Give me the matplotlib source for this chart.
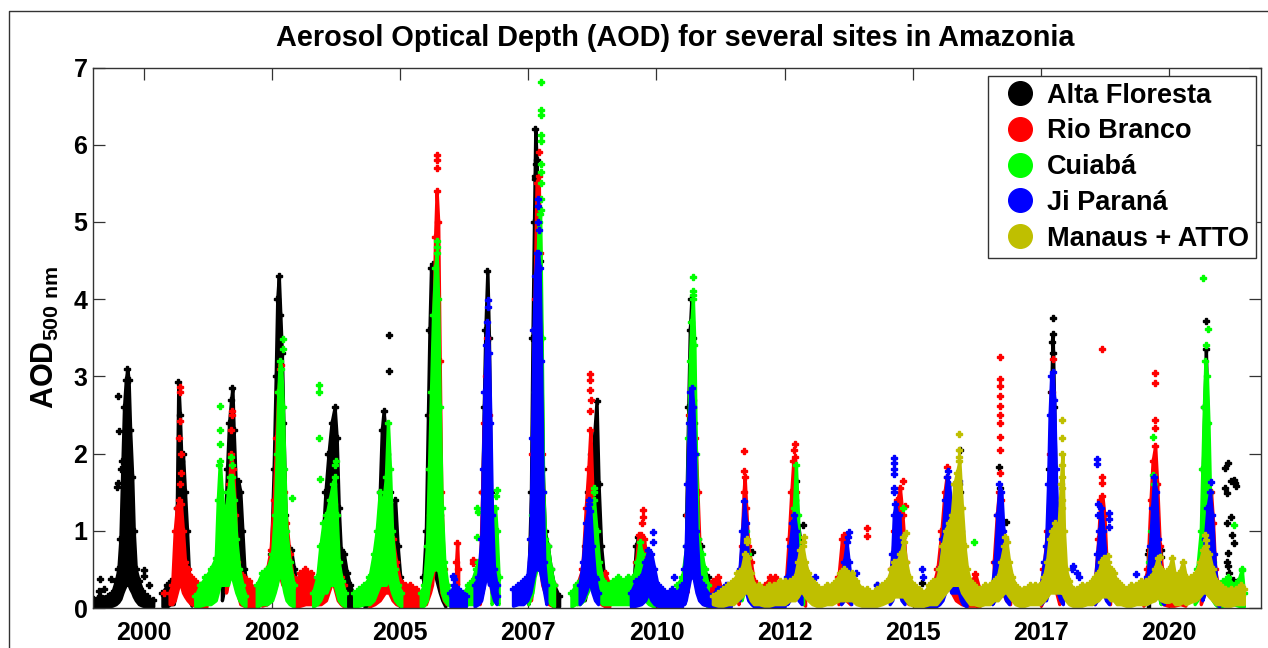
import matplotlib
matplotlib.use('Agg')
import matplotlib.pyplot as plt
from matplotlib.lines import Line2D

plt.rcParams['font.family'] = ['Liberation Sans', 'DejaVu Sans']
plt.rcParams['font.weight'] = 'bold'
plt.rcParams['mathtext.fontset'] = 'custom'
plt.rcParams['mathtext.rm'] = 'Liberation Sans:bold'
plt.rcParams['mathtext.it'] = 'Liberation Sans:bold'
plt.rcParams['mathtext.bf'] = 'Liberation Sans:bold'

# ---------------- data (decimal year, AOD) ----------------
site_names = ['Alta Floresta', 'Rio Branco', 'Cuiabá', 'Ji Paraná', 'Manaus + ATTO']
site_colors = ['#000000', '#FF0000', '#00FF00', '#0000FF', '#BFBF00']

xtick_pos = [2000.0, 2002.5, 2005.0, 2007.5, 2010.0, 2012.5, 2015.0, 2017.5, 2020.0]
xtick_labels = ['2000', '2002', '2005', '2007', '2010', '2012', '2015', '2017', '2020']
ytick_pos = [0, 1, 2, 3, 4, 5, 6, 7]

# each segment: list of (time, low AOD, high AOD) observation envelopes
alta_floresta_segments = [
    [(1999.01,0.02,0.12),(1999.15,0.02,0.15),(1999.30,0.02,0.15),(1999.38,0.03,0.2),(1999.45,0.05,0.35),(1999.50,0.08,0.5),(1999.54,0.12,0.9),(1999.58,0.2,1.9),(1999.61,0.25,2.6),(1999.645,0.3,2.95),(1999.675,0.3,3.1),(1999.70,0.3,2.95),(1999.73,0.25,2.3),(1999.77,0.2,1.7),(1999.80,0.15,1.0),(1999.84,0.1,0.5),(1999.90,0.05,0.35),(1999.97,0.03,0.22),(2000.05,0.02,0.15),(2000.18,0.02,0.1)],
    [(2000.36,0.02,0.2),(2000.45,0.02,0.3),(2000.52,0.05,0.35),(2000.58,0.05,0.3),(2000.64,0.3,1.3),(2000.67,0.5,2.93),(2000.70,0.5,2.5),(2000.73,0.4,1.9),(2000.76,0.3,2.0),(2000.80,0.3,1.5),(2000.84,0.2,1.0),(2000.88,0.1,0.4),(2000.93,0.03,0.2)],
    [(2001.52,0.1,0.5),(2001.58,0.3,1.0),(2001.62,0.4,1.8),(2001.66,0.5,2.4),(2001.70,0.5,2.7),(2001.725,0.5,2.85),(2001.75,0.4,2.3),(2001.79,0.3,1.6),(2001.84,0.3,1.65),(2001.88,0.2,1.5),(2001.92,0.1,1.0),(2001.96,0.05,0.5),(2002.00,0.02,0.3)],
    [(2002.20,0.02,0.2),(2002.30,0.05,0.35),(2002.40,0.05,0.4),(2002.48,0.1,0.7),(2002.53,0.3,1.8),(2002.57,0.5,3.0),(2002.60,0.6,4.0),(2002.63,0.6,4.3),(2002.66,0.6,3.8),(2002.69,0.5,3.3),(2002.72,0.4,2.4),(2002.76,0.3,1.2),(2002.80,0.2,0.8),(2002.87,0.1,0.75),(2002.93,0.05,0.5),(2002.98,0.02,0.3)],
    [(2003.40,0.05,0.3),(2003.48,0.1,0.8),(2003.54,0.3,1.5),(2003.60,0.5,2.0),(2003.66,0.5,2.4),(2003.72,0.5,2.6),(2003.76,0.4,2.2),(2003.80,0.3,1.3),(2003.84,0.2,0.75),(2003.90,0.1,0.7),(2003.96,0.03,0.45),(2004.02,0.02,0.3),(2004.10,0.02,0.15)],
    [(2004.30,0.02,0.2),(2004.45,0.05,0.3),(2004.55,0.1,0.6),(2004.60,0.3,1.5),(2004.64,0.5,2.3),(2004.675,0.5,2.55),(2004.71,0.5,2.3),(2004.75,0.4,2.0),(2004.80,0.3,1.5),(2004.85,0.2,1.2),(2004.90,0.1,1.4),(2004.95,0.05,0.8),(2005.00,0.02,0.4),(2005.08,0.02,0.15)],
    [(2005.45,0.05,0.4),(2005.50,0.2,1.0),(2005.54,0.3,2.5),(2005.57,0.4,3.6),(2005.60,0.5,4.4),(2005.63,0.5,4.45),(2005.66,0.5,4.0),(2005.69,0.4,3.0),(2005.73,0.3,2.0),(2005.77,0.2,1.2),(2005.82,0.1,0.6),(2005.88,0.02,0.3)],
    [(2006.60,0.2,1.5),(2006.63,0.3,2.6),(2006.66,0.5,3.6),(2006.70,0.5,4.37),(2006.73,0.5,3.5),(2006.77,0.3,1.5),(2006.82,0.2,0.6)],
    [(2007.50,0.05,0.3),(2007.55,0.2,1.5),(2007.58,0.4,3.5),(2007.61,0.5,5.0),(2007.635,0.5,6.2),(2007.66,0.6,5.8),(2007.69,0.6,5.3),(2007.72,0.5,4.5),(2007.75,0.5,3.5),(2007.78,0.4,1.8),(2007.82,0.3,1.0),(2007.88,0.2,0.8),(2007.94,0.05,0.5),(2008.00,0.02,0.3),(2008.10,0.02,0.15)],
    [(2008.60,0.1,0.8),(2008.66,0.3,1.5),(2008.72,0.4,2.0),(2008.77,0.5,2.1),(2008.83,0.4,2.68),(2008.87,0.3,1.6),(2008.92,0.2,0.8),(2008.97,0.05,0.45),(2009.05,0.02,0.3)],
    [(2009.55,0.05,0.3),(2009.60,0.2,0.8),(2009.64,0.3,0.92),(2009.68,0.3,0.9),(2009.72,0.3,0.85),(2009.76,0.2,0.7),(2009.80,0.1,0.5),(2009.90,0.05,0.35),(2010.00,0.02,0.3),(2010.10,0.02,0.2)],
    [(2010.58,0.2,1.2),(2010.62,0.4,2.6),(2010.65,0.5,3.6),(2010.68,0.5,4.0),(2010.71,0.5,3.5),(2010.74,0.4,2.4),(2010.80,0.3,0.9),(2010.86,0.2,0.8),(2010.92,0.1,0.5),(2011.00,0.05,0.4),(2011.05,0.02,0.2)],
    [(2012.66,0.3,0.8),(2012.70,0.4,1.4),(2012.74,0.3,1.2),(2012.80,0.2,0.9),(2012.86,0.1,0.6)],
    [(2015.84,0.3,0.9),(2015.88,0.5,1.4),(2015.92,0.4,1.5),(2015.96,0.2,0.8)],
    [(2016.66,0.3,0.9),(2016.70,0.4,1.55),(2016.74,0.3,1.1),(2016.80,0.2,0.9)],
    [(2017.66,0.5,1.8),(2017.70,0.8,2.8),(2017.73,1.0,3.55),(2017.76,0.8,2.6),(2017.80,0.4,1.2)],
    [(2019.59,0.0,0.7),(2019.61,0.0,0.75)],
    [(2020.66,0.6,1.8),(2020.69,0.9,2.6),(2020.72,1.0,3.35),(2020.75,0.8,2.4),(2020.79,0.4,1.2)],
]
alta_floresta_points = [(1999.15,0.38),(1999.35,0.37),(1999.13,0.22),(1999.22,0.25),(1999.48,1.57),(1999.50,1.62),
    (1999.52,2.29),(1999.50,2.75),(1999.55,1.8),(2000.00,0.49),(2000.00,0.42),(2000.10,0.3),(2004.79,3.53),(2004.79,3.07),
    (2007.62,5.55),(2007.63,5.6),(2007.64,5.75),(2011.87,0.72),(2012.73,1.64),(2012.86,1.08),(2013.90,0.27),(2014.30,0.3),
    (2015.19,0.33),(2015.93,2.04),(2015.90,1.6),(2016.69,1.82),(2016.81,1.12),(2017.727,3.76),(2017.72,3.45),(2017.73,3.3),
    (2017.83,0.74),(2019.85,0.75),(2019.84,0.66),(2020.73,3.72),(2021.10,1.81),(2021.16,1.88),(2021.26,1.66),(2021.20,1.64),
    (2021.14,1.49),(2021.10,1.55),(2021.20,1.18),(2021.14,1.10),(2021.26,0.84),(2021.16,0.71),(2021.14,0.60),(2021.16,0.55),
    (2021.24,0.36),(2021.26,0.30),(2021.18,0.45),(2021.10,0.33),(2021.22,0.95),(2021.28,1.62),(2021.30,1.58)]

rio_branco_segments = [
    [(2000.50,0.05,0.2),(2000.55,0.05,0.3),(2000.60,0.1,1.0),(2000.64,0.2,1.3),(2000.68,0.3,1.4),(2000.72,0.3,1.35),(2000.76,0.2,1.0),(2000.80,0.15,0.6),(2000.85,0.1,0.5),(2000.92,0.05,0.4),(2001.00,0.03,0.35),(2001.10,0.02,0.3),(2001.22,0.02,0.2)],
    [(2001.60,0.2,0.9),(2001.66,0.4,1.6),(2001.70,0.5,2.0),(2001.74,0.4,1.8),(2001.78,0.3,1.2),(2001.82,0.2,0.6),(2001.88,0.05,0.45),(2001.95,0.03,0.4),(2002.05,0.02,0.35),(2002.15,0.02,0.25)],
    [(2002.30,0.03,0.3),(2002.40,0.05,0.5),(2002.47,0.1,0.75),(2002.53,0.2,1.4),(2002.58,0.3,2.2),(2002.62,0.4,2.8),(2002.66,0.4,3.1),(2002.70,0.3,2.6),(2002.74,0.3,1.5),(2002.78,0.2,1.1),(2002.84,0.1,0.7),(2002.90,0.05,0.4),(2002.97,0.02,0.35),(2003.05,0.03,0.45),(2003.15,0.05,0.5),(2003.25,0.05,0.45),(2003.35,0.05,0.35),(2003.45,0.05,0.3),(2003.55,0.1,0.6),(2003.60,0.2,1.1),(2003.65,0.3,1.3),(2003.70,0.3,1.35),(2003.74,0.2,1.2),(2003.78,0.1,0.6),(2003.84,0.05,0.4),(2003.90,0.02,0.3)],
    [(2004.40,0.02,0.25),(2004.50,0.05,0.4),(2004.60,0.1,0.6),(2004.70,0.2,1.0),(2004.78,0.2,1.1),(2004.85,0.1,0.9),(2004.92,0.05,0.6),(2005.00,0.03,0.35),(2005.10,0.02,0.3),(2005.20,0.02,0.3),(2005.30,0.02,0.25),(2005.40,0.03,0.2),(2005.50,0.05,0.3),(2005.58,0.2,1.2),(2005.62,0.3,2.5),(2005.65,0.5,3.8),(2005.68,0.5,4.8),(2005.71,0.6,5.4),(2005.74,0.6,5.0),(2005.77,0.4,3.2),(2005.80,0.2,1.5),(2005.85,0.1,0.5),(2005.90,0.05,0.3)],
    [(2006.09,0.3,0.6),(2006.11,0.35,0.84),(2006.13,0.3,0.5)],
    [(2006.55,0.05,0.4),(2006.60,0.2,1.5),(2006.63,0.3,2.4),(2006.67,0.5,3.0),(2006.70,0.5,3.5),(2006.74,0.4,2.5),(2006.78,0.2,1.0),(2006.83,0.1,0.4)],
    [(2007.55,0.1,0.6),(2007.58,0.3,2.0),(2007.62,0.5,4.0),(2007.66,0.6,5.5),(2007.70,0.6,5.6),(2007.73,0.5,4.6),(2007.77,0.3,2.0),(2007.82,0.2,0.5),(2007.90,0.05,0.4),(2008.00,0.02,0.3)],
    [(2008.45,0.05,0.3),(2008.55,0.1,0.5),(2008.62,0.2,1.3),(2008.67,0.3,1.8),(2008.71,0.4,2.3),(2008.75,0.3,1.5),(2008.80,0.2,0.8),(2008.85,0.1,0.5),(2008.92,0.05,0.4),(2009.00,0.02,0.45),(2009.08,0.02,0.3)],
    [(2009.60,0.1,0.6),(2009.65,0.3,0.95),(2009.70,0.3,0.95),(2009.75,0.3,0.9),(2009.80,0.2,0.7),(2009.86,0.1,0.4),(2009.95,0.05,0.3),(2010.05,0.02,0.2)],
    [(2010.60,0.2,1.2),(2010.64,0.4,2.5),(2010.67,0.5,2.8),(2010.71,0.5,2.7),(2010.76,0.4,2.2),(2010.80,0.3,1.5),(2010.85,0.1,0.6),(2010.92,0.05,0.35),(2011.00,0.03,0.3),(2011.10,0.03,0.35),(2011.20,0.03,0.4),(2011.28,0.02,0.2)],
    [(2011.60,0.05,0.3),(2011.66,0.2,0.8),(2011.70,0.3,1.5),(2011.72,0.3,1.7),(2011.75,0.3,1.3),(2011.79,0.2,0.8),(2011.84,0.1,0.6),(2011.90,0.05,0.35),(2012.00,0.03,0.25),(2012.12,0.03,0.3),(2012.22,0.05,0.4),(2012.32,0.05,0.4),(2012.40,0.03,0.25)],
    [(2012.52,0.05,0.3),(2012.58,0.2,0.9),(2012.63,0.3,1.5),(2012.67,0.4,1.9),(2012.70,0.4,1.95),(2012.73,0.3,1.5),(2012.77,0.2,0.8),(2012.82,0.1,0.4),(2012.90,0.03,0.25)],
    [(2013.55,0.05,0.4),(2013.62,0.2,0.9),(2013.66,0.2,0.95),(2013.70,0.1,0.6),(2013.78,0.05,0.3)],
    [(2014.58,0.1,0.5),(2014.64,0.2,1.0),(2014.70,0.3,1.4),(2014.75,0.3,1.55),(2014.80,0.2,1.2),(2014.86,0.1,0.6),(2014.92,0.05,0.3)],
    [(2015.40,0.05,0.3),(2015.48,0.1,0.5),(2015.56,0.2,1.0),(2015.62,0.3,1.5),(2015.66,0.3,1.7),(2015.70,0.3,1.3),(2015.76,0.2,0.8),(2015.84,0.1,0.5),(2015.95,0.05,0.3),(2016.05,0.03,0.3),(2016.15,0.03,0.35),(2016.22,0.03,0.44),(2016.30,0.02,0.25)],
    [(2016.58,0.1,0.6),(2016.64,0.3,1.2),(2016.68,0.3,1.5),(2016.72,0.3,1.4),(2016.76,0.2,0.9),(2016.82,0.1,0.5),(2016.90,0.05,0.3)],
    [(2017.50,0.03,0.3),(2017.55,0.1,0.5),(2017.62,0.2,1.0),(2017.68,0.3,2.0),(2017.72,0.4,2.8),(2017.76,0.3,1.8),(2017.80,0.2,0.8),(2017.86,0.05,0.3)],
    [(2018.55,0.05,0.3),(2018.62,0.2,0.9),(2018.66,0.3,1.4),(2018.70,0.3,1.45),(2018.74,0.2,1.2),(2018.78,0.1,0.6),(2018.85,0.05,0.3)],
    [(2019.50,0.03,0.3),(2019.58,0.1,0.5),(2019.64,0.3,1.4),(2019.68,0.4,1.9),(2019.73,0.4,2.1),(2019.77,0.3,1.6),(2019.82,0.2,0.8),(2019.88,0.05,0.4),(2019.98,0.03,0.3),(2020.10,0.03,0.35),(2020.22,0.05,0.42),(2020.32,0.03,0.3)],
    [(2020.62,0.05,0.4),(2020.70,0.2,0.8),(2020.76,0.3,1.2),(2020.82,0.3,1.5),(2020.86,0.2,1.1),(2020.90,0.1,0.5),(2020.95,0.05,0.3)],
]
rio_branco_points = [(2000.40,0.2),(2000.71,2.86),(2000.71,2.8),(2000.70,2.42),(2000.69,2.2),(2000.72,2.0),(2000.73,1.75),
    (2000.70,1.6),(2001.72,2.55),(2001.71,2.5),(2001.70,2.3),(2002.68,3.15),(2005.72,5.87),(2005.72,5.8),(2005.72,5.7),
    (2006.42,0.62),(2006.42,0.58),(2007.71,5.9),(2008.71,3.03),(2008.71,2.95),(2008.70,2.82),(2008.72,2.7),(2008.71,2.55),
    (2009.73,1.27),(2009.73,1.18),(2009.72,1.1),(2011.715,2.03),(2011.715,1.77),(2012.70,2.13),(2012.69,2.05),(2014.11,1.03),
    (2014.11,0.93),(2014.80,1.65),(2014.84,1.32),(2015.66,1.82),(2016.71,3.25),(2016.71,2.97),(2016.71,2.88),(2016.71,2.75),
    (2016.71,2.62),(2016.71,2.5),(2016.71,2.4),(2016.71,2.22),(2016.71,2.05),(2016.70,1.75),(2017.73,3.23),(2018.70,3.36),
    (2018.70,1.70),(2018.70,1.62),(2019.735,3.04),(2019.735,2.92),(2019.73,2.43),(2019.735,2.33)]

cuiaba_segments = [
    [(2001.00,0.02,0.15),(2001.10,0.03,0.3),(2001.20,0.05,0.4),(2001.30,0.05,0.5),(2001.40,0.1,0.65),(2001.44,0.2,1.4),(2001.48,0.3,1.9),(2001.52,0.3,1.5),(2001.56,0.3,1.2),(2001.60,0.3,1.3),(2001.64,0.3,1.5),(2001.68,0.4,1.7),(2001.72,0.4,1.7),(2001.76,0.3,1.4),(2001.80,0.2,0.9),(2001.86,0.1,0.5),(2001.92,0.05,0.3),(2001.98,0.02,0.15)],
    [(2002.20,0.02,0.3),(2002.30,0.05,0.45),(2002.40,0.05,0.5),(2002.50,0.1,0.7),(2002.55,0.2,1.2),(2002.59,0.3,2.0),(2002.62,0.4,2.8),(2002.65,0.4,3.2),(2002.68,0.4,3.1),(2002.71,0.3,2.6),(2002.74,0.2,1.8),(2002.78,0.1,1.0),(2002.84,0.05,0.6),(2002.92,0.02,0.3)],
    [(2003.30,0.02,0.2),(2003.38,0.05,0.4),(2003.44,0.1,0.8),(2003.50,0.2,1.1),(2003.56,0.2,1.2),(2003.62,0.3,1.4),(2003.68,0.3,1.6),(2003.72,0.3,1.7),(2003.76,0.2,1.2),(2003.80,0.1,0.6),(2003.86,0.05,0.35),(2003.92,0.02,0.2)],
    [(2004.10,0.02,0.2),(2004.20,0.03,0.25),(2004.30,0.05,0.3),(2004.40,0.05,0.4),(2004.48,0.1,0.7),(2004.54,0.2,1.0),(2004.60,0.3,1.5),(2004.66,0.3,1.3),(2004.72,0.3,1.7),(2004.76,0.4,2.4),(2004.80,0.3,1.8),(2004.84,0.2,1.0),(2004.90,0.1,0.5),(2004.96,0.05,0.3),(2005.02,0.02,0.2)],
    [(2005.40,0.02,0.2),(2005.46,0.03,0.3),(2005.52,0.1,0.8),(2005.56,0.3,1.8),(2005.60,0.4,2.8),(2005.64,0.5,3.8),(2005.68,0.5,4.4),(2005.71,0.5,4.6),(2005.74,0.5,4.0),(2005.77,0.4,2.6),(2005.81,0.2,1.3),(2005.86,0.1,0.6),(2005.92,0.05,0.3),(2006.00,0.02,0.15)],
    [(2006.25,0.02,0.2),(2006.32,0.05,0.3),(2006.40,0.05,0.35),(2006.47,0.05,0.5),(2006.52,0.1,0.6),(2006.56,0.1,0.4)],
    [(2006.78,0.05,0.5),(2006.82,0.1,0.9),(2006.85,0.2,1.3),(2006.88,0.1,1.0),(2006.92,0.05,0.4)],
    [(2007.50,0.05,0.3),(2007.58,0.2,1.2),(2007.62,0.4,2.8),(2007.66,0.5,4.0),(2007.70,0.5,5.0),(2007.73,0.5,5.1),(2007.76,0.4,3.5),(2007.79,0.3,1.5),(2007.83,0.2,0.9),(2007.88,0.1,0.8),(2007.94,0.05,0.5),(2008.00,0.02,0.3)],
    [(2008.34,0.02,0.2),(2008.42,0.05,0.3),(2008.50,0.05,0.35),(2008.58,0.1,0.5),(2008.65,0.2,0.9),(2008.72,0.3,1.2),(2008.78,0.3,1.4),(2008.83,0.2,1.0),(2008.88,0.1,0.6),(2008.95,0.05,0.35),(2009.05,0.05,0.3),(2009.15,0.05,0.35),(2009.25,0.05,0.4),(2009.35,0.05,0.35),(2009.45,0.05,0.4),(2009.55,0.05,0.4),(2009.62,0.1,0.6),(2009.67,0.3,0.85),(2009.72,0.2,0.7),(2009.78,0.1,0.4),(2009.85,0.05,0.3),(2009.95,0.02,0.2)],
    [(2010.40,0.05,0.3),(2010.50,0.05,0.4),(2010.58,0.2,0.8),(2010.62,0.4,2.2),(2010.65,0.5,3.2),(2010.68,0.5,3.7),(2010.71,0.6,4.0),(2010.74,0.5,3.4),(2010.77,0.3,2.0),(2010.81,0.2,0.9),(2010.88,0.1,0.7),(2010.94,0.05,0.5),(2011.00,0.02,0.3)],
    [(2011.66,0.1,0.4),(2011.70,0.2,0.6),(2011.74,0.3,1.0),(2011.78,0.2,0.7),(2011.82,0.1,0.3)],
    [(2012.64,0.2,0.8),(2012.68,0.3,1.3),(2012.72,0.3,1.85),(2012.76,0.2,1.2),(2012.80,0.1,0.6),(2012.86,0.05,0.3)],
    [(2019.60,0.1,0.6),(2019.65,0.2,1.0),(2019.69,0.3,1.3),(2019.73,0.3,1.2),(2019.78,0.2,0.7),(2019.84,0.05,0.3)],
    [(2020.50,0.05,0.3),(2020.55,0.1,0.5),(2020.62,0.2,1.0),(2020.65,0.3,1.8),(2020.68,0.4,2.6),(2020.71,0.5,3.2),(2020.74,0.4,3.0),(2020.77,0.4,2.4),(2020.80,0.3,1.5),(2020.85,0.1,0.6),(2020.90,0.05,0.3),(2020.95,0.02,0.25),(2021.05,0.03,0.35),(2021.15,0.05,0.4),(2021.25,0.05,0.3),(2021.35,0.03,0.35),(2021.42,0.02,0.5),(2021.46,0.02,0.2)],
]
cuiaba_points = [(2001.49,2.62),(2001.49,2.3),(2001.48,2.12),(2001.47,1.85),(2001.70,1.95),(2001.72,1.85),(2002.72,3.48),
    (2002.71,3.35),(2002.89,1.42),(2003.42,2.89),(2003.42,2.8),(2003.42,2.2),(2003.44,1.67),(2003.74,1.91),(2003.73,1.85),
    (2005.72,4.75),(2005.71,4.68),(2006.50,0.92),(2006.51,1.24),(2006.50,1.3),(2006.88,1.53),(2006.87,1.45),(2007.75,6.81),
    (2007.75,6.45),(2007.75,6.38),(2007.75,6.13),(2007.75,6.05),(2007.75,5.75),(2007.75,5.65),(2007.74,5.5),(2007.74,5.3),
    (2007.74,5.15),(2008.79,1.56),(2008.78,1.5),(2010.72,4.29),(2010.72,4.1),(2010.71,4.05),(2014.80,1.3),(2016.19,0.85),
    (2017.83,0.65),(2019.68,2.22),(2019.69,1.72),(2019.70,1.6),(2020.67,4.27),(2020.77,3.61),(2020.72,3.4),(2021.26,1.07),
    (2021.42,0.49)]

ji_parana_segments = [
    [(2005.98,0.02,0.2),(2006.05,0.02,0.3),(2006.12,0.02,0.25),(2006.20,0.02,0.2),(2006.28,0.02,0.15)],
    [(2006.45,0.02,0.3),(2006.52,0.05,0.4),(2006.58,0.1,0.9),(2006.61,0.2,1.8),(2006.64,0.3,2.8),(2006.67,0.4,3.4),(2006.70,0.4,3.7),(2006.73,0.3,3.3),(2006.76,0.3,2.4),(2006.79,0.2,1.2),(2006.83,0.1,0.5),(2006.88,0.05,0.3)],
    [(2007.20,0.03,0.25),(2007.30,0.05,0.3),(2007.40,0.05,0.35),(2007.48,0.1,0.4),(2007.54,0.2,0.9),(2007.57,0.3,2.2),(2007.60,0.4,3.6),(2007.63,0.5,4.3),(2007.66,0.5,4.6),(2007.69,0.5,4.6),(2007.72,0.5,4.4),(2007.75,0.4,3.2),(2007.78,0.3,1.5),(2007.81,0.2,0.6),(2007.85,0.05,0.3)],
    [(2008.50,0.05,0.3),(2008.56,0.1,0.6),(2008.62,0.2,1.1),(2008.67,0.3,1.3),(2008.71,0.3,1.25),(2008.75,0.2,0.8),(2008.80,0.1,0.4),(2008.86,0.05,0.2)],
    [(2009.50,0.02,0.2),(2009.60,0.03,0.35),(2009.70,0.05,0.4),(2009.78,0.1,0.6),(2009.84,0.2,0.75),(2009.90,0.1,0.7),(2009.96,0.05,0.5),(2010.02,0.03,0.3),(2010.10,0.02,0.25),(2010.20,0.02,0.2),(2010.30,0.02,0.25),(2010.40,0.02,0.2),(2010.50,0.02,0.3)],
    [(2010.54,0.05,0.5),(2010.57,0.1,0.8),(2010.60,0.2,1.6),(2010.63,0.3,2.4),(2010.66,0.4,2.8),(2010.69,0.4,2.85),(2010.72,0.4,2.6),(2010.75,0.3,2.0),(2010.78,0.2,1.0),(2010.83,0.1,0.4),(2010.90,0.05,0.3),(2011.05,0.02,0.15),(2011.20,0.02,0.25),(2011.35,0.02,0.3),(2011.45,0.02,0.2)],
    [(2011.62,0.1,0.5),(2011.67,0.2,1.0),(2011.71,0.3,1.38),(2011.75,0.2,1.1),(2011.79,0.1,0.5),(2011.85,0.05,0.25),(2011.90,0.02,0.2),(2012.05,0.02,0.15),(2012.20,0.02,0.2),(2012.35,0.02,0.2),(2012.50,0.02,0.25)],
    [(2012.55,0.05,0.4),(2012.60,0.1,0.8),(2012.65,0.2,1.1),(2012.69,0.2,1.2),(2012.73,0.2,1.0),(2012.77,0.1,0.5),(2012.83,0.05,0.3)],
    [(2013.60,0.05,0.3),(2013.66,0.1,0.6),(2013.71,0.2,0.85),(2013.75,0.1,0.6),(2013.80,0.05,0.3)],
    [(2014.55,0.05,0.3),(2014.60,0.1,0.7),(2014.63,0.2,1.2),(2014.66,0.3,1.35),(2014.70,0.2,1.2),(2014.74,0.2,1.2),(2014.78,0.1,0.6),(2014.84,0.05,0.3)],
    [(2015.25,0.02,0.2),(2015.35,0.02,0.25),(2015.45,0.02,0.3),(2015.52,0.05,0.5),(2015.58,0.1,0.9),(2015.63,0.2,1.4),(2015.67,0.3,1.7),(2015.71,0.3,1.6),(2015.75,0.2,1.3),(2015.80,0.2,1.0),(2015.84,0.2,1.2),(2015.90,0.2,1.65),(2015.94,0.1,1.0),(2015.98,0.05,0.5),(2016.05,0.02,0.3)],
    [(2016.55,0.05,0.3),(2016.60,0.1,0.6),(2016.65,0.2,1.2),(2016.69,0.3,1.6),(2016.73,0.3,1.5),(2016.77,0.2,1.0),(2016.82,0.1,0.5),(2016.88,0.05,0.3)],
    [(2017.50,0.05,0.3),(2017.56,0.1,0.6),(2017.60,0.1,0.8),(2017.64,0.2,1.6),(2017.67,0.3,2.5),(2017.70,0.4,3.0),(2017.73,0.4,3.05),(2017.76,0.4,2.7),(2017.79,0.3,1.8),(2017.83,0.2,0.9),(2017.88,0.1,0.4),(2017.93,0.05,0.3)],
    [(2018.55,0.05,0.3),(2018.60,0.1,0.7),(2018.64,0.2,1.0),(2018.68,0.3,1.3),(2018.72,0.2,1.0),(2018.77,0.1,0.6),(2018.83,0.05,0.3)],
    [(2019.58,0.05,0.4),(2019.63,0.1,0.8),(2019.67,0.2,1.3),(2019.71,0.3,1.7),(2019.75,0.3,1.5),(2019.79,0.2,0.9),(2019.84,0.1,0.4),(2019.90,0.05,0.3)],
    [(2020.65,0.1,0.5),(2020.70,0.2,0.9),(2020.75,0.3,1.3),(2020.80,0.3,1.5),(2020.84,0.2,1.2),(2020.88,0.1,0.7),(2020.93,0.05,0.3),(2020.98,0.02,0.2)],
]
ji_parana_points = [(2006.03,0.42),(2006.05,0.38),(2006.71,3.99),(2006.71,3.9),(2006.88,0.15),(2007.69,5.3),(2007.68,5.2),
    (2007.69,5.0),(2007.70,4.9),(2008.69,1.4),(2008.68,1.35),(2008.82,0.38),(2009.93,0.99),(2009.93,0.86),(2010.35,0.4),
    (2011.40,0.3),(2013.10,0.4),(2013.75,0.99),(2013.74,0.92),(2013.90,0.45),(2014.30,0.3),(2014.64,1.94),(2014.64,1.88),
    (2014.64,1.80),(2014.64,1.73),(2014.64,1.55),(2014.64,1.5),(2015.18,0.5),(2015.20,0.4),(2015.68,1.77),(2018.10,0.5),
    (2018.12,0.55),(2018.20,0.45),(2018.25,0.4),(2018.60,1.93),(2018.60,1.86),(2018.82,1.23),(2018.82,1.15),(2018.82,1.05),
    (2018.62,1.35),(2018.62,1.2),(2019.35,0.44),(2020.82,1.63)]

manaus_segments = [[
    (2011.10,0.05,0.15),(2011.20,0.03,0.2),(2011.30,0.03,0.25),(2011.40,0.05,0.3),(2011.50,0.05,0.35),
    (2011.58,0.1,0.45),(2011.66,0.15,0.5),(2011.72,0.2,0.7),(2011.78,0.2,0.65),(2011.84,0.1,0.45),(2011.90,0.05,0.3),
    (2012.00,0.05,0.3),(2012.10,0.03,0.25),(2012.20,0.03,0.3),(2012.30,0.05,0.3),(2012.40,0.05,0.35),(2012.50,0.05,0.35),
    (2012.60,0.1,0.35),(2012.70,0.1,0.4),(2012.76,0.15,0.6),(2012.80,0.2,0.75),(2012.85,0.2,0.8),(2012.90,0.15,0.6),
    (2012.96,0.1,0.45),(2013.04,0.05,0.35),(2013.12,0.03,0.3),(2013.22,0.03,0.25),(2013.32,0.05,0.3),(2013.42,0.05,0.3),
    (2013.50,0.08,0.35),(2013.58,0.1,0.45),(2013.66,0.1,0.5),(2013.74,0.1,0.45),(2013.82,0.1,0.45),(2013.90,0.05,0.35),
    (2014.00,0.03,0.25),(2014.10,0.03,0.25),(2014.20,0.03,0.2),(2014.30,0.03,0.25),(2014.40,0.05,0.3),(2014.50,0.08,0.35),
    (2014.58,0.1,0.5),(2014.64,0.15,0.6),(2014.70,0.15,0.6),(2014.76,0.15,0.7),(2014.82,0.15,0.85),(2014.87,0.1,0.6),
    (2014.93,0.05,0.4),(2015.02,0.03,0.3),(2015.12,0.03,0.25),(2015.22,0.03,0.2),(2015.32,0.05,0.3),(2015.40,0.05,0.35),
    (2015.46,0.05,0.35),(2015.52,0.1,0.5),(2015.58,0.15,0.8),(2015.64,0.2,1.0),(2015.70,0.25,1.1),(2015.76,0.3,1.2),
    (2015.81,0.3,1.6),(2015.86,0.3,1.75),(2015.91,0.3,1.9),(2015.96,0.2,1.3),(2016.01,0.15,0.8),(2016.06,0.1,0.5),
    (2016.12,0.05,0.35),(2016.20,0.05,0.3),(2016.30,0.03,0.25),(2016.40,0.05,0.3),(2016.50,0.05,0.3),(2016.58,0.1,0.35),
    (2016.66,0.1,0.4),(2016.72,0.15,0.6),(2016.78,0.2,0.8),(2016.83,0.2,0.85),(2016.88,0.15,0.6),(2016.94,0.1,0.4),
    (2017.00,0.05,0.3),(2017.08,0.03,0.25),(2017.18,0.03,0.25),(2017.28,0.05,0.3),(2017.38,0.05,0.3),(2017.48,0.05,0.3),
    (2017.56,0.1,0.4),(2017.62,0.15,0.6),(2017.67,0.2,0.9),(2017.72,0.2,1.0),(2017.78,0.2,1.1),(2017.84,0.2,1.0),
    (2017.89,0.2,1.6),(2017.92,0.2,2.0),(2017.95,0.15,1.0),(2017.99,0.1,0.5),(2018.05,0.05,0.35),
    (2018.12,0.03,0.25),(2018.20,0.03,0.25),(2018.30,0.03,0.3),(2018.40,0.05,0.3),(2018.50,0.05,0.35),(2018.56,0.08,0.4),
    (2018.62,0.1,0.45),(2018.68,0.15,0.6),(2018.74,0.15,0.65),(2018.80,0.15,0.6),(2018.86,0.1,0.5),(2018.92,0.1,0.45),
    (2018.98,0.05,0.35),(2019.06,0.05,0.3),(2019.16,0.03,0.25),(2019.26,0.03,0.3),(2019.36,0.05,0.3),(2019.46,0.05,0.35),
    (2019.56,0.05,0.35),(2019.64,0.08,0.4),(2019.72,0.1,0.5),(2019.78,0.15,0.65),(2019.84,0.1,0.5),(2019.92,0.08,0.45),
    (2020.00,0.08,0.5),(2020.06,0.1,0.65),(2020.12,0.05,0.4),(2020.20,0.05,0.45),(2020.27,0.08,0.6),(2020.33,0.05,0.4),
    (2020.42,0.08,0.4),(2020.52,0.1,0.45),(2020.60,0.15,0.6),(2020.66,0.2,0.75),(2020.72,0.2,0.8),(2020.78,0.15,0.7),
    (2020.85,0.1,0.5),(2020.92,0.05,0.35),(2021.00,0.05,0.3),(2021.10,0.03,0.25),(2021.20,0.03,0.25),(2021.30,0.05,0.25),
    (2021.40,0.05,0.3),(2021.46,0.05,0.25),
]]
manaus_points = [(2011.76,0.9),(2011.77,0.85),(2012.87,0.92),(2012.86,0.85),(2014.86,0.97),(2014.80,0.92),(2015.91,2.25),
    (2015.90,2.05),(2015.90,1.95),(2016.80,0.92),(2017.92,2.43),(2017.92,2.2),(2017.92,1.85),(2017.92,1.7),(2017.92,1.55),
    (2017.92,1.4),(2017.92,1.3),(2018.80,0.67),(2019.82,0.66),(2020.70,0.94),(2020.73,0.88)]

all_segments = [alta_floresta_segments, rio_branco_segments, cuiaba_segments, ji_parana_segments, manaus_segments]
all_points = [alta_floresta_points, rio_branco_points, cuiaba_points, ji_parana_points, manaus_points]

# ---------------- figure ----------------
W, H = 1268, 648
fig = plt.figure(figsize=(W / 100, H / 100), dpi=100)
fig.patch.set_facecolor('white')
ax = fig.add_axes([93 / W, 1 - 608 / H, (1261 - 93) / W, (608 - 67.5) / H])

MS = 4.8
for z, (segs, pts, col) in enumerate(zip(all_segments, all_points, site_colors)):
    for seg in segs:
        t = [p[0] for p in seg]
        lo = [p[1] for p in seg]
        hi = [p[2] for p in seg]
        ax.fill_between(t, lo, hi, facecolor=col, edgecolor=col, lw=2.4, zorder=2 + z)
        ax.plot(t, hi, ls='none', marker='P', ms=MS, color=col, zorder=2 + z)
    ax.plot([p[0] for p in pts], [p[1] for p in pts], ls='none', marker='P', ms=MS, color=col, zorder=2 + z)

ax.set_xlim(1999.005, 2021.795)
ax.set_ylim(0, 7)
ax.set_xticks(xtick_pos)
ax.set_xticklabels(xtick_labels)
ax.set_yticks(ytick_pos)
ax.tick_params(direction='in', length=8.6, width=0.9, top=True, right=True,
               labelsize=18, colors='#333333', labelcolor='black')
ax.tick_params(axis='x', pad=9)
ax.tick_params(axis='y', pad=4)
for lab in ax.get_xticklabels() + ax.get_yticklabels():
    lab.set_fontweight('bold')
for sp in ax.spines.values():
    sp.set_color('#333333')
    sp.set_linewidth(1.0)
    sp.set_zorder(20)

fig.text(675 / W, 1 - 46.3 / H, 'Aerosol Optical Depth (AOD) for several sites in Amazonia',
         ha='center', va='baseline', fontsize=20.8, fontweight='bold')
fig.text(45 / W, 1 - 338 / H, r'AOD$_{\mathrm{500\ nm}}$', rotation=90, ha='center', va='center',
         fontsize=22, fontweight='bold')

handles = [Line2D([], [], ls='none', marker='o', ms=17, color=c, mec=c) for c in site_colors]
leg = ax.legend(handles, site_names, loc='upper right', bbox_to_anchor=(1256 / W, 1 - 75.8 / H),
                bbox_transform=fig.transFigure, borderaxespad=0, frameon=True, fancybox=False,
                edgecolor='#333333', framealpha=1, prop={'weight': 'bold', 'size': 19.5},
                handlelength=1.9, handletextpad=0.05, labelspacing=0.36, borderpad=0.25)
leg.get_frame().set_linewidth(1.0)
leg.set_zorder(30)

# outer figure frame
fig.add_artist(Line2D([9 / W, 9 / W, 1.0], [0.0, 1 - 11 / H, 1 - 11 / H], transform=fig.transFigure,
                      color='#333333', lw=1.0))

fig.savefig('out.png', dpi=100)
